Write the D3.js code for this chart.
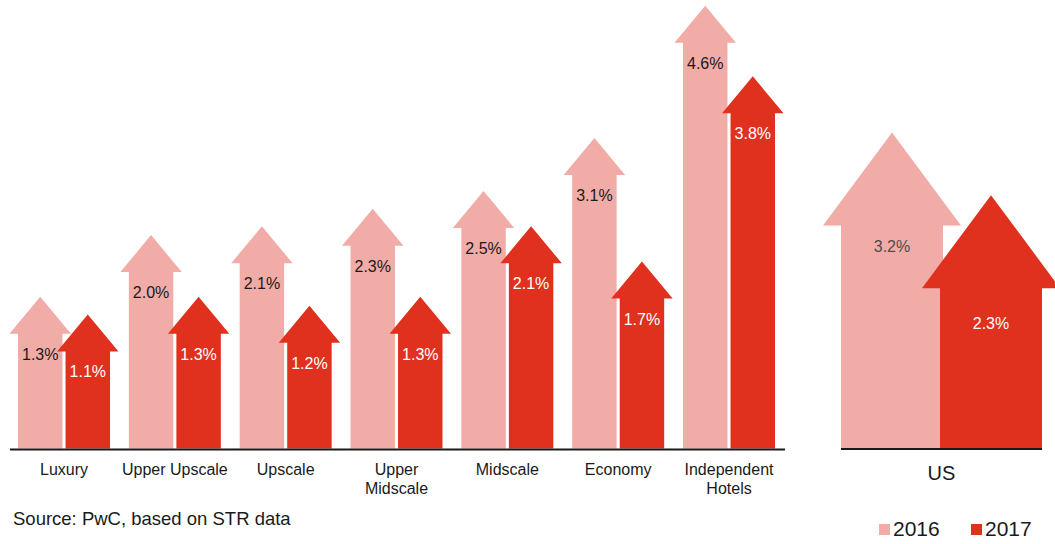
<!DOCTYPE html>
<html>
<head>
<meta charset="utf-8">
<script src="https://cdn.jsdelivr.net/npm/d3@7"></script>
<style>
  html, body { margin: 0; padding: 0; background: #fff; }
  svg { display: block; font-family: "Liberation Sans", Arial, Helvetica, sans-serif; }
</style>
</head>
<body>
<svg id="chart" width="1055" height="544"></svg>
<script>
// ---- data ----
const categories = ["Luxury", "Upper Upscale", "Upscale", "Upper Midscale", "Midscale", "Economy", "Independent Hotels"];
const categoryLines = [["Luxury"], ["Upper Upscale"], ["Upscale"], ["Upper", "Midscale"], ["Midscale"], ["Economy"], ["Independent", "Hotels"]];
const years = ["2016", "2017"];
const values2016 = [1.3, 2.0, 2.1, 2.3, 2.5, 3.1, 4.6];
const values2017 = [1.1, 1.3, 1.2, 1.3, 2.1, 1.7, 3.8];
const usCategory = ["US"];
const us2016 = [3.2];
const us2017 = [2.3];
const sourceText = "Source: PwC, based on STR data";

const colors = { "2016": "#f2aca7", "2017": "#e0301e" };
const labelColors = { "2016": "#1a1a1a", "2017": "#ffffff" };

const svg = d3.select("#chart");

function arrowPath(x, w, yTop, yBase, over, headH) {
  const p = d3.path();
  p.moveTo(x, yBase);
  p.lineTo(x, yTop);
  p.lineTo(x - over, yTop);
  p.lineTo(x + w / 2, yTop - headH);
  p.lineTo(x + w + over, yTop);
  p.lineTo(x + w, yTop);
  p.lineTo(x + w, yBase);
  p.closePath();
  return p.toString();
}

// ---- left panel ----
const baseY = 448.5;
const x0 = d3.scaleBand().domain(categories).range([18, 775]).paddingInner(0.17).paddingOuter(0);
const x1 = d3.scaleBand().domain(years).range([0, x0.bandwidth()]).paddingInner(0.065);
const y = d3.scaleLinear().domain([0, 5]).range([baseY, baseY - 5 * 88.2]);

const rows = [];
categories.forEach((c, i) => {
  rows.push({ cat: c, year: "2016", v: values2016[i] });
  rows.push({ cat: c, year: "2017", v: values2017[i] });
});

const gL = svg.append("g");
years.forEach(yr => {
  gL.selectAll(null).data(rows.filter(r => r.year === yr)).enter().append("path")
    .attr("d", d => arrowPath(x0(d.cat) + x1(d.year), x1.bandwidth(), y(d.v), baseY, 8.5, 37))
    .attr("fill", colors[yr]);
});
gL.selectAll(null).data(rows).enter().append("text")
  .attr("x", d => x0(d.cat) + x1(d.year) + x1.bandwidth() / 2)
  .attr("y", d => y(d.v) + 26)
  .attr("text-anchor", "middle")
  .attr("font-size", 16)
  .attr("fill", d => labelColors[d.year])
  .text(d => d.v.toFixed(1) + "%");

// baseline
svg.append("line").attr("x1", 10).attr("x2", 785).attr("y1", 449.5).attr("y2", 449.5)
  .attr("stroke", "#1a1a1a").attr("stroke-width", 2);

// x axis labels
const axisG = svg.append("g").attr("transform", `translate(0,${baseY})`)
  .call(d3.axisBottom(x0).tickSize(0).tickSizeOuter(0));
axisG.select(".domain").remove();
axisG.selectAll(".tick text").each(function (d, i) {
  const t = d3.select(this);
  t.text(null).attr("y", 0).attr("dy", null)
    .attr("font-size", 16).attr("fill", "#1a1a1a")
    .attr("font-family", "Liberation Sans, Arial, sans-serif");
  categoryLines[categories.indexOf(d)].forEach((ln, k) => {
    t.append("tspan").attr("x", 0).attr("y", 26.5 + k * 18.5).text(ln);
  });
});

// ---- US panel ----
const usBase = 448;
const usW = 102;
const xu = d3.scaleLinear().domain([0, 1]).range([841, 940]);
const yu = d3.scaleLinear().domain([0, 3.2]).range([usBase, usBase - 3.2 * 69.5]);
const usRows = [
  { year: "2016", v: us2016[0], i: 0, off: 26, lc: "#4d4d4d" },
  { year: "2017", v: us2017[0], i: 1, off: 41, lc: "#ffffff" }
];
const gU = svg.append("g");
gU.selectAll(null).data(usRows).enter().append("path")
  .attr("d", d => arrowPath(xu(d.i), usW, yu(d.v), usBase, 18, 93))
  .attr("fill", d => colors[d.year]);
gU.selectAll(null).data(usRows).enter().append("text")
  .attr("x", d => xu(d.i) + usW / 2)
  .attr("y", d => yu(d.v) + d.off)
  .attr("text-anchor", "middle")
  .attr("font-size", 16)
  .attr("fill", d => d.lc)
  .text(d => d.v.toFixed(1) + "%");
svg.append("line").attr("x1", 841).attr("x2", 1042).attr("y1", 449).attr("y2", 449)
  .attr("stroke", "#1a1a1a").attr("stroke-width", 2);
svg.append("text").attr("x", 941.5).attr("y", 480).attr("text-anchor", "middle")
  .attr("font-size", 20).attr("fill", "#1a1a1a").text(usCategory[0]);

// ---- source ----
svg.append("text").attr("x", 13).attr("y", 525).attr("font-size", 18.5)
  .attr("fill", "#1a1a1a").text(sourceText);

// ---- legend ----
const legendX = [879, 971];
years.forEach((yr, i) => {
  svg.append("rect").attr("x", legendX[i]).attr("y", 524).attr("width", 11).attr("height", 11)
    .attr("fill", colors[yr]);
  svg.append("text").attr("x", legendX[i] + 14).attr("y", 535.5).attr("font-size", 21)
    .attr("fill", "#1a1a1a").text(yr);
});
</script>
</body>
</html>
